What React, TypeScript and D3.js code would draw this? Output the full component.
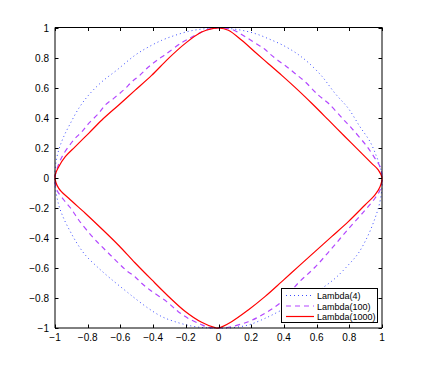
import React, { useEffect, useRef } from 'react';
import * as d3 from 'd3';

// tick values and their labels (both axes share the same grid)
const tickValues = [-1, -0.8, -0.6, -0.4, -0.2, 0, 0.2, 0.4, 0.6, 0.8, 1];
const tickLabels = ['\u22121', '\u22120.8', '\u22120.6', '\u22120.4', '\u22120.2', '0', '0.2', '0.4', '0.6', '0.8', '1'];

const seriesNames = ['Lambda(4)', 'Lambda(100)', 'Lambda(1000)'];

// points, going round the curve counter-clockwise from (1, 0)
const lambda4: [number, number][] = [
  [1.0, 0.02], [0.988, 0.075], [0.967, 0.142], [0.927, 0.242], [0.865, 0.342], [0.794, 0.464],
  [0.713, 0.564], [0.631, 0.68], [0.549, 0.77], [0.498, 0.815], [0.458, 0.845], [0.387, 0.889],
  [0.315, 0.924], [0.243, 0.956], [0.172, 0.978], [0.08, 0.995], [0.0, 1.0],
  [-0.083, 0.995], [-0.174, 0.98], [-0.266, 0.951], [-0.347, 0.918], [-0.429, 0.873], [-0.511, 0.818],
  [-0.621, 0.72], [-0.713, 0.642], [-0.794, 0.553], [-0.855, 0.464], [-0.906, 0.364], [-0.947, 0.275],
  [-0.977, 0.187], [-0.995, 0.098], [-1.0, 0.02],
  [-1.0, -0.047], [-0.977, -0.18], [-0.947, -0.269], [-0.906, -0.358], [-0.865, -0.436], [-0.815, -0.513],
  [-0.743, -0.591], [-0.662, -0.669], [-0.549, -0.769], [-0.511, -0.802], [-0.429, -0.869], [-0.347, -0.924],
  [-0.266, -0.958], [-0.164, -0.987], [-0.083, -0.998], [0.0, -1.0],
  [0.08, -0.998], [0.182, -0.98], [0.284, -0.936], [0.387, -0.88], [0.52, -0.805], [0.631, -0.736],
  [0.713, -0.669], [0.794, -0.58], [0.855, -0.502], [0.916, -0.38], [0.957, -0.269], [0.985, -0.17],
  [1.0, -0.06],
];

const lambda100: [number, number][] = [
  [1.0, 0.0], [0.988, 0.075], [0.957, 0.131], [0.906, 0.213], [0.815, 0.331], [0.763, 0.391],
  [0.672, 0.498], [0.61, 0.553], [0.529, 0.642], [0.468, 0.697], [0.417, 0.742], [0.366, 0.782],
  [0.315, 0.827], [0.28, 0.862], [0.223, 0.9], [0.156, 0.947], [0.08, 0.991], [0.0, 1.0],
  [-0.062, 0.991], [-0.124, 0.962], [-0.174, 0.933], [-0.225, 0.902], [-0.327, 0.822], [-0.378, 0.784],
  [-0.429, 0.74], [-0.48, 0.686], [-0.529, 0.642], [-0.58, 0.587], [-0.641, 0.531], [-0.692, 0.487],
  [-0.733, 0.431], [-0.794, 0.364], [-0.835, 0.309], [-0.886, 0.253], [-0.957, 0.142], [-0.99, 0.053],
  [-1.0, 0.0],
  [-0.988, -0.08], [-0.937, -0.158], [-0.896, -0.213], [-0.855, -0.28], [-0.763, -0.402], [-0.713, -0.458],
  [-0.662, -0.513], [-0.61, -0.569], [-0.56, -0.62], [-0.511, -0.658], [-0.47, -0.702], [-0.419, -0.747],
  [-0.317, -0.824], [-0.246, -0.891], [-0.185, -0.936], [-0.113, -0.973], [-0.062, -0.996], [0.0, -1.0],
  [0.06, -0.995], [0.182, -0.958], [0.284, -0.902], [0.387, -0.824], [0.488, -0.7], [0.59, -0.595],
  [0.692, -0.47], [0.794, -0.34], [0.896, -0.215], [0.957, -0.135], [0.988, -0.08],
];

const lambda1000: [number, number][] = [
  [1.0, 0.0], [0.978, 0.053], [0.937, 0.098], [0.876, 0.164], [0.774, 0.275], [0.672, 0.387],
  [0.57, 0.498], [0.488, 0.584], [0.387, 0.684], [0.305, 0.762], [0.223, 0.84], [0.142, 0.918],
  [0.06, 0.985], [0.0, 1.0],
  [-0.03, 0.997], [-0.103, 0.973], [-0.205, 0.896], [-0.307, 0.796], [-0.409, 0.684], [-0.511, 0.584],
  [-0.61, 0.487], [-0.713, 0.387], [-0.794, 0.298], [-0.876, 0.209], [-0.937, 0.142], [-0.977, 0.075],
  [-1.0, 0.009],
  [-0.977, -0.069], [-0.916, -0.135], [-0.815, -0.235], [-0.713, -0.34], [-0.61, -0.45], [-0.511, -0.565],
  [-0.409, -0.678], [-0.307, -0.788], [-0.205, -0.888], [-0.103, -0.962], [-0.021, -0.998],
  [0.0, -1.0], [0.08, -0.958], [0.182, -0.88], [0.284, -0.791], [0.387, -0.691], [0.488, -0.591],
  [0.59, -0.491], [0.692, -0.391], [0.794, -0.291], [0.896, -0.18], [0.957, -0.113], [0.988, -0.058],
];

const App = () => {
  const svgRef = useRef<SVGSVGElement>(null);

  useEffect(() => {
    const svg = d3.select(svgRef.current);
    svg.selectAll('*').remove();

    const width = 421;
    const height = 370;
    const font = '"Liberation Sans", Arial, Helvetica, sans-serif';

    const x = d3.scaleLinear().domain([-1, 1]).range([55, 382]);
    const y = d3.scaleLinear().domain([-1, 1]).range([328, 28]);

    svg.attr('width', width).attr('height', height);
    svg.append('rect').attr('width', width).attr('height', height).attr('fill', '#fff');

    const series = [
      { name: seriesNames[0], pts: lambda4, color: '#3b4dff', dash: '1,3', w: 1 },
      { name: seriesNames[1], pts: lambda100, color: '#b347ff', dash: '5,4', w: 1.2 },
      { name: seriesNames[2], pts: lambda1000, color: '#ff0000', dash: null, w: 1.2 },
    ];

    const line = d3
      .line<[number, number]>()
      .x((d) => x(d[0]))
      .y((d) => y(d[1]))
      .curve(d3.curveCatmullRomClosed.alpha(0.5));

    series.forEach((s) => {
      svg
        .append('path')
        .attr('d', line(s.pts))
        .attr('fill', 'none')
        .attr('stroke', s.color)
        .attr('stroke-width', s.w)
        .attr('stroke-dasharray', s.dash);
    });

    // axes box, ticks inward on all four sides
    const frame = svg.append('g').attr('stroke', '#000').attr('stroke-width', 1);
    frame.append('line').attr('x1', 55).attr('x2', 382).attr('y1', 27.5).attr('y2', 27.5);
    frame.append('line').attr('x1', 55).attr('x2', 382).attr('y1', 328).attr('y2', 328);
    frame.append('line').attr('x1', 55).attr('x2', 55).attr('y1', 27.5).attr('y2', 328);
    frame.append('line').attr('x1', 382).attr('x2', 382).attr('y1', 27.5).attr('y2', 328);

    const tickLen = 3.5;
    tickValues.forEach((v, i) => {
      const px = Math.round(x(v)) + 0.5;
      const py = Math.round(y(v)) + 0.5;
      frame.append('line').attr('x1', px).attr('x2', px).attr('y1', 328).attr('y2', 328 - tickLen);
      frame.append('line').attr('x1', px).attr('x2', px).attr('y1', 27.5).attr('y2', 27.5 + tickLen);
      frame.append('line').attr('x1', 55).attr('x2', 55 + tickLen).attr('y1', py).attr('y2', py);
      frame.append('line').attr('x1', 382).attr('x2', 382 - tickLen).attr('y1', py).attr('y2', py);

      svg
        .append('text')
        .attr('x', x(v))
        .attr('y', 341)
        .attr('text-anchor', 'middle')
        .style('font-family', font)
        .style('font-size', '10px')
        .text(tickLabels[i]);

      svg
        .append('text')
        .attr('x', 49)
        .attr('y', y(v) + 3.5)
        .attr('text-anchor', 'end')
        .style('font-family', font)
        .style('font-size', '10px')
        .text(tickLabels[i]);
    });

    // legend in the lower right corner
    const lg = svg.append('g');
    lg.append('rect')
      .attr('x', 281.5)
      .attr('y', 288.5)
      .attr('width', 96)
      .attr('height', 34)
      .attr('fill', '#fff')
      .attr('stroke', '#000')
      .attr('stroke-width', 1);

    series.forEach((s, i) => {
      const ly = 295.5 + i * 10.5;
      lg.append('line')
        .attr('x1', 286)
        .attr('x2', 314)
        .attr('y1', ly)
        .attr('y2', ly)
        .attr('stroke', s.color)
        .attr('stroke-width', s.w)
        .attr('stroke-dasharray', s.dash);
      lg.append('text')
        .attr('x', 317)
        .attr('y', ly + 3.5)
        .style('font-family', font)
        .style('font-size', '9px')
        .text(s.name);
    });
  }, []);

  return <svg ref={svgRef} style={{ position: 'absolute', left: 0, top: 0 }}></svg>;
};

export default App;
